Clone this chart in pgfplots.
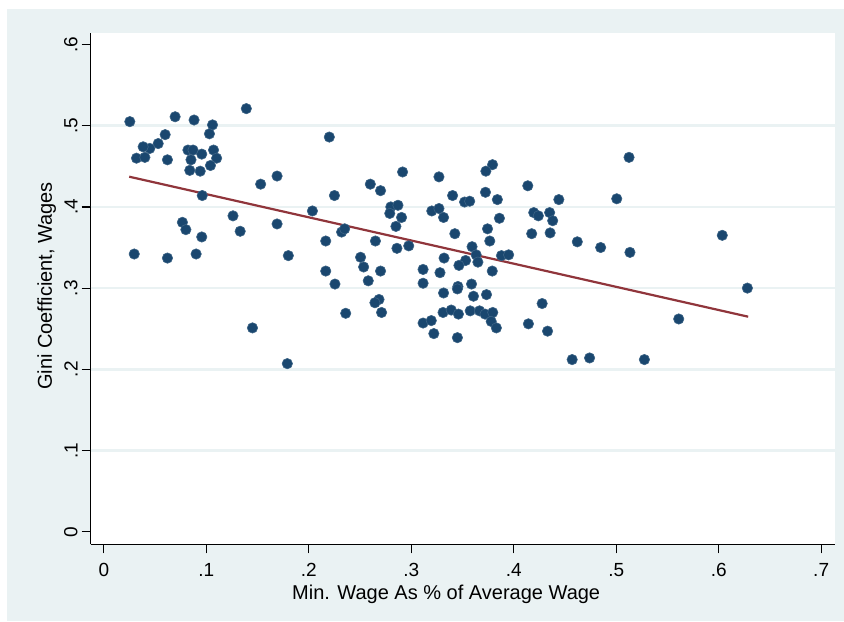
\documentclass[border=0pt]{standalone}
\usepackage{pgfplots}
\pgfplotsset{compat=1.18}
\usepackage{fontspec}
\setmainfont{Liberation Sans}
\definecolor{bg}{RGB}{234,242,243}
\definecolor{stnavy}{RGB}{26,71,111}
\definecolor{stmaroon}{RGB}{144,53,59}
\pgfplotstableread{
x y
0.0253 0.505
0.0695 0.511
0.088 0.507
0.139 0.521
0.106 0.501
0.103 0.490
0.0598 0.489
0.053 0.478
0.0448 0.472
0.0383 0.474
0.0318 0.460
0.040 0.461
0.062 0.458
0.082 0.470
0.087 0.470
0.0955 0.465
0.107 0.470
0.110 0.460
0.085 0.458
0.104 0.451
0.0838 0.445
0.094 0.444
0.153 0.428
0.169 0.438
0.096 0.414
0.126 0.389
0.169 0.379
0.0766 0.381
0.080 0.372
0.133 0.370
0.0955 0.363
0.0296 0.342
0.062 0.337
0.090 0.342
0.180 0.340
0.145 0.251
0.179 0.207
0.220 0.486
0.2915 0.443
0.327 0.437
0.260 0.428
0.270 0.420
0.225 0.414
0.2035 0.395
0.280 0.400
0.287 0.402
0.279 0.392
0.2905 0.387
0.285 0.376
0.320 0.395
0.327 0.398
0.3315 0.387
0.232 0.369
0.235 0.373
0.2165 0.358
0.265 0.358
0.286 0.349
0.2975 0.352
0.2505 0.338
0.2535 0.326
0.2165 0.321
0.270 0.321
0.2255 0.305
0.258 0.309
0.3115 0.323
0.328 0.319
0.3115 0.306
0.3315 0.294
0.2685 0.286
0.2645 0.282
0.236 0.269
0.271 0.270
0.3115 0.257
0.3195 0.260
0.322 0.244
0.331 0.270
0.3793 0.452
0.3728 0.444
0.4137 0.426
0.3403 0.414
0.3724 0.418
0.352 0.406
0.357 0.407
0.384 0.409
0.444 0.409
0.5005 0.410
0.386 0.386
0.4195 0.393
0.424 0.389
0.435 0.393
0.438 0.383
0.3744 0.373
0.3425 0.367
0.4175 0.367
0.4355 0.368
0.462 0.357
0.4848 0.350
0.3766 0.358
0.3593 0.351
0.3633 0.341
0.365 0.332
0.332 0.337
0.353 0.334
0.3465 0.328
0.388 0.340
0.395 0.341
0.379 0.321
0.3455 0.302
0.345 0.299
0.3588 0.305
0.3607 0.290
0.3734 0.292
0.4277 0.281
0.339 0.273
0.346 0.268
0.3575 0.272
0.3666 0.272
0.372 0.268
0.3795 0.270
0.378 0.259
0.383 0.251
0.345 0.239
0.4143 0.256
0.433 0.247
0.457 0.212
0.474 0.214
0.5125 0.461
0.5134 0.344
0.6035 0.365
0.628 0.300
0.561 0.262
0.5275 0.212
}\gini
\begin{document}
\begin{tikzpicture}[x=0.5pt,y=0.5pt]
\path[use as bounding box] (0,0) rectangle (844,621);
\fill[bg] (7,0) rectangle (844,612);
\begin{axis}[
  at={(88.5,94.3)}, anchor=south west,
  width=372.25pt, height=255.85pt, scale only axis,
  xmin=-0.0129, xmax=0.7137, ymin=-0.0156, ymax=0.6145,
  axis background/.style={fill=white},
  axis lines*=left,
  axis line style={black, line width=0.6pt},
  tick align=outside, major tick length=4.5pt,
  tick style={black, line width=0.6pt},
  xtick={0,0.1,0.2,0.3,0.4,0.5,0.6,0.7},
  xticklabels={0,.1,.2,.3,.4,.5,.6,.7},
  ytick={0,0.1,0.2,0.3,0.4,0.5,0.6},
  yticklabels={0,.1,.2,.3,.4,.5,.6},
  extra y ticks={0.1,0.2,0.3,0.4,0.5},
  extra y tick labels={},
  extra y tick style={ymajorgrids=true, major tick length=0pt},
  major grid style={bg, line width=1.3pt},
  ticklabel style={font=\fontsize{9.5}{11}\selectfont},
  xticklabel style={yshift=-1.5pt},
  yticklabel style={xshift=1.5pt, rotate=90, anchor=south},
  label style={font=\fontsize{10}{12}\selectfont},
  xlabel={Min. Wage As \% of Average Wage},
  ylabel={Gini Coefficient, Wages},
  xlabel style={at={([yshift=-25.2pt]axis description cs:0.4775,0)}, anchor=center},
  ylabel style={at={([xshift=-22pt]axis description cs:0,0.505)}, anchor=center},
  clip=false,
]
\addplot[only marks, mark=*, mark size=2.6pt, mark options={fill=stnavy, draw=stnavy!85!white, line width=0.3pt}] table[x=x,y=y]{\gini};
\addplot[stmaroon, line width=1.1pt] coordinates {(0.0247,0.4372) (0.6288,0.2648)};
\end{axis}
\end{tikzpicture}
\end{document}
